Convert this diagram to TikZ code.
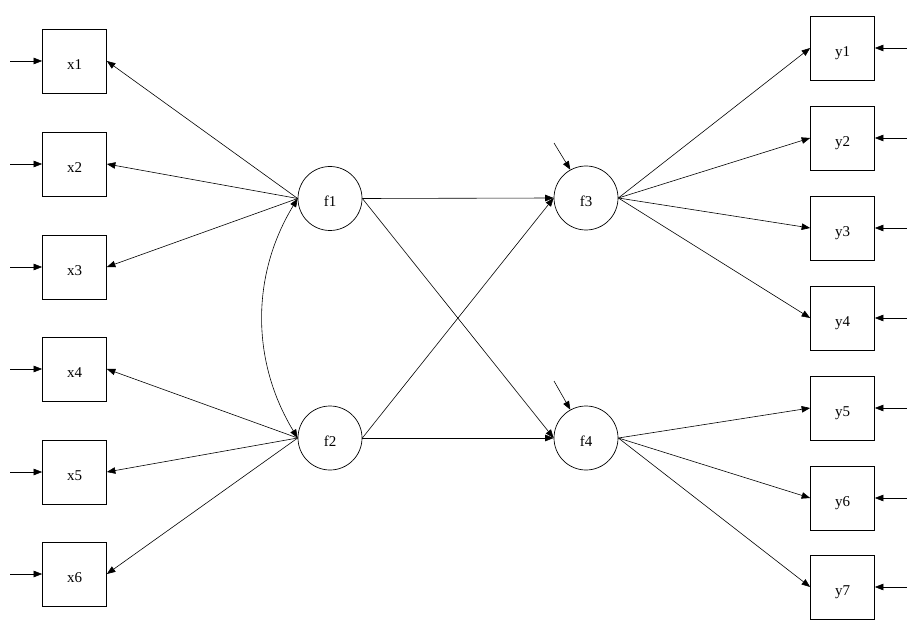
\documentclass[tikz,border=0pt]{standalone}
\usepackage{fontspec}
\setmainfont{Liberation Serif}
\usetikzlibrary{arrows.meta}
\begin{document}
\begin{tikzpicture}[x=1pt,y=-1pt,
  lbl/.style={font=\fontsize{15}{18}\selectfont,text height=17pt,text depth=0pt},
  obs/.style={draw,line width=0.7pt,minimum width=64pt,minimum height=64pt,inner sep=0pt,lbl},
  lat/.style={draw,circle,line width=0.7pt,minimum size=64pt,inner sep=0pt,lbl},
  arr/.style={-{Triangle[length=8.5pt,width=6.5pt]},line width=0.6pt},
  darr/.style={{Triangle[length=8.5pt,width=6.5pt]}-{Triangle[length=8.5pt,width=6.5pt]},line width=0.6pt}]
\useasboundingbox (0,0) rectangle (915,636);
% observed x
\node[obs] (x1) at (74.5,61) {x1};
\node[obs] (x2) at (74.5,164) {x2};
\node[obs] (x3) at (74.5,267) {x3};
\node[obs] (x4) at (74.5,369) {x4};
\node[obs] (x5) at (74.5,472) {x5};
\node[obs] (x6) at (74.5,574) {x6};
% observed y
\node[obs] (y1) at (842.5,48) {y1};
\node[obs] (y2) at (842.5,138) {y2};
\node[obs] (y3) at (842.5,228) {y3};
\node[obs] (y4) at (842.5,318) {y4};
\node[obs] (y5) at (842.5,408) {y5};
\node[obs] (y6) at (842.5,498) {y6};
\node[obs] (y7) at (842.5,587) {y7};
% latent
\node[lat] (f1) at (330,198.5) {f1};
\node[lat] (f2) at (330,438) {f2};
\node[lat] (f3) at (586,198) {f3};
\node[lat] (f4) at (586,438) {f4};
% error sources
\foreach \i in {1,...,6} {\coordinate (ex\i) at ([xshift=-32pt]x\i.west);}
\foreach \i in {1,...,7} {\coordinate (ey\i) at ([xshift=32pt]y\i.east);}
\coordinate (e3) at (554,143);
\coordinate (e4) at (554,381);
% error arrows
\foreach \i in {1,...,6} {\draw[arr] (ex\i) -- (x\i.west);}
\foreach \i in {1,...,7} {\draw[arr] (ey\i) -- (y\i.east);}
\draw[arr] (e3) -- (f3.119);
\draw[arr] (e4) -- (f4.119);
% loadings
\foreach \i in {1,2,3} {\draw[arr] (f1.west) -- (x\i.east);}
\foreach \i in {4,5,6} {\draw[arr] (f2.west) -- (x\i.east);}
\foreach \i in {1,2,3,4} {\draw[arr] (f3.east) -- (y\i.west);}
\foreach \i in {5,6,7} {\draw[arr] (f4.east) -- (y\i.west);}
% structural paths
\draw[arr] (f1.east) -- (f3.west);
\draw[arr] (f1.east) -- (f4.west);
\draw[arr] (f2.east) -- (f3.west);
\draw[arr] (f2.east) -- (f4.west);
% covariance
\draw[darr] (f1.west) .. controls (251,275) and (251,361) .. (f2.west);
\end{tikzpicture}
\end{document}
